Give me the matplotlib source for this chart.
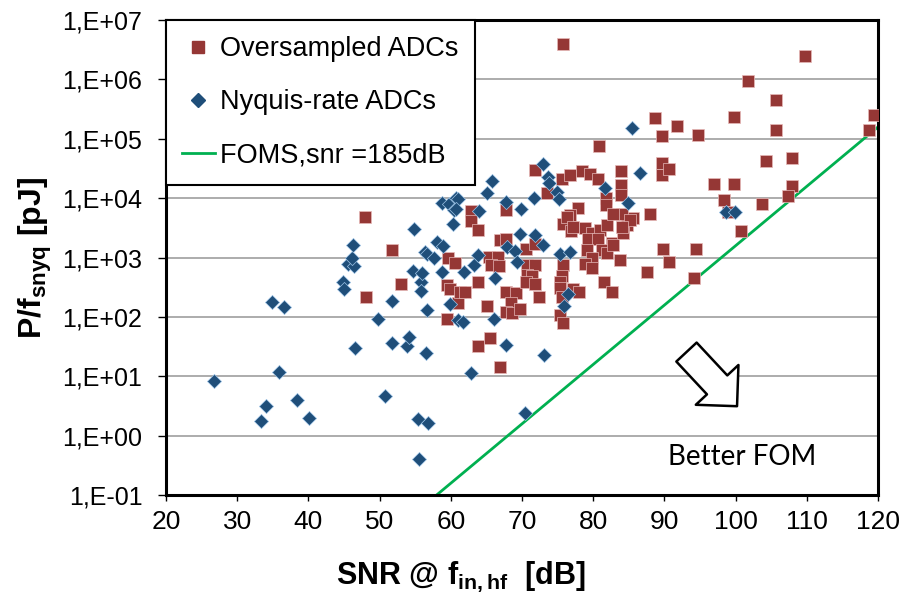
import matplotlib
matplotlib.use("Agg")
import matplotlib.pyplot as plt
import numpy as np
from matplotlib.patches import FancyArrowPatch
from matplotlib.lines import Line2D

plt.rcParams['font.family'] = ['Liberation Sans', 'DejaVu Sans']
plt.rcParams['mathtext.fontset'] = 'custom'
plt.rcParams['mathtext.rm'] = 'Liberation Sans'
plt.rcParams['mathtext.bf'] = 'Liberation Sans:bold'

# Oversampled ADCs: SNR [dB], P/fsnyq [pJ]
over_snr = [47.9, 48.1, 51.8, 53.0, 59.5, 59.5, 59.9, 59.6, 60.6, 61.0,
            61.3, 62.0, 62.8, 62.8, 63.8, 63.8, 63.8, 65.5, 66.9, 65.1,
            65.3, 66.7, 65.7, 66.8, 66.9, 67.8, 67.8, 67.8, 69.2, 68.4,
            67.8, 68.6, 69.7, 70.6, 71.8, 70.7, 71.8, 70.7, 71.4, 70.6,
            71.8, 72.4, 71.8, 73.5, 75.6, 76.7, 78.4, 79.6, 80.7, 81.8,
            81.8, 75.7, 77.8, 76.7, 75.7, 76.9, 78.8, 79.9, 81.0, 81.9,
            82.6, 79.3, 80.7, 81.2, 79.1, 79.8, 78.9, 81.9, 79.8, 75.8,
            75.6, 75.3, 75.4, 75.6, 77.1, 78.0, 81.5, 82.6, 75.3, 75.7,
            83.8, 87.6, 90.6, 89.8, 94.4, 94.1, 88.0, 85.6, 84.7, 84.2,
            82.8, 83.9, 89.6, 89.6, 90.7, 83.9, 83.9, 80.8, 88.7, 91.8,
            89.7, 94.7, 96.9, 99.8, 98.4, 99.0, 100.8, 103.7, 101.7, 105.7,
            99.8, 105.7, 109.7, 119.5, 118.8, 104.2, 107.9, 107.9, 107.3, 84.0,
            85.2, 84.1, 76.3, 77.2, 82.8]
over_p = [4900, 214, 1320, 355, 91, 350, 300, 980, 800, 170,
          263, 263, 6000, 4100, 2900, 380, 32, 44, 14.5, 151,
          1020, 1020, 740, 710, 1950, 2090, 6300, 263, 251, 170,
          123, 115, 138, 1410, 1660, 740, 740, 510, 490, 380,
          355, 219, 29500, 12000, 21400, 24500, 28800, 25700, 20900, 10000,
          7600, 3.9e6, 6800, 5200, 3600, 2750, 3100, 2600, 2950, 3550,
          1740, 2090, 2090, 1320, 1320, 980, 790, 1170, 660, 740,
          480, 380, 310, 219, 290, 263, 380, 263, 107, 78,
          910, 575, 850, 1380, 1410, 450, 5500, 4600, 3550, 2570,
          1620, 28800, 38900, 24500, 30900, 16600, 11200, 75900, 224000, 162000,
          110000, 117000, 17000, 17000, 9300, 5750, 2800, 7900, 933000, 457000,
          234000, 138000, 2.5e6, 251000, 138000, 42700, 47900, 15800, 11000, 5500,
          4300, 3300, 4900, 3300, 5500]

# Nyquist-rate ADCs: SNR [dB], P/fsnyq [pJ]
nyq_snr = [26.8, 33.3, 34.0, 34.9, 36.6, 35.9, 38.4, 40.1, 44.8, 45.0,
           45.5, 46.4, 46.1, 46.3, 46.6, 49.8, 50.7, 51.8, 51.8, 53.8,
           54.2, 54.7, 54.8, 55.4, 55.6, 55.8, 55.8, 56.0, 56.5, 56.4,
           56.7, 56.7, 56.8, 57.7, 58.1, 58.8, 58.8, 58.9, 59.7, 59.9,
           60.7, 60.4, 60.3, 61.0, 61.0, 60.7, 61.8, 61.7, 62.8, 63.3,
           63.8, 63.9, 65.1, 65.8, 66.2, 66.0, 67.8, 67.9, 67.8, 69.0,
           69.3, 69.7, 69.8, 70.4, 71.7, 71.8, 72.9, 73.0, 73.1, 73.7,
           73.8, 74.9, 75.2, 75.3, 76.7, 76.5, 75.9, 81.7, 84.9, 85.4,
           86.6, 98.7, 99.9]
nyq_p = [8.3, 1.8, 3.2, 176, 148, 12, 4.0, 2.0, 380, 300,
         790, 720, 980, 1620, 30, 91, 4.6, 182, 37, 32,
         45, 600, 3000, 1.9, 0.41, 380, 275, 550, 25, 1260,
         1150, 129, 1.66, 1000, 1860, 8300, 560, 1580, 8100, 166,
         10000, 6300, 3600, 9500, 89, 6500, 575, 83, 11.5, 740,
         1100, 6000, 12300, 19500, 450, 91, 8700, 1480, 34, 1290,
         830, 2500, 6500, 2.45, 10000, 2400, 37600, 1620, 23, 22400,
         17800, 12900, 9500, 1150, 1230, 240, 151, 15100, 8300, 151000,
         26300, 5900, 5750]

foms = 185.0
y_ticks = [1e-1, 1e0, 1e1, 1e2, 1e3, 1e4, 1e5, 1e6, 1e7]
y_ticklabels = ['1,E-01', '1,E+00', '1,E+01', '1,E+02', '1,E+03',
                '1,E+04', '1,E+05', '1,E+06', '1,E+07']
x_ticks = list(range(20, 121, 10))

red = '#953735'
blue = '#1F4E79'
green = '#00B050'

fig = plt.figure(figsize=(9.01, 5.95), dpi=100)
ax = fig.add_axes([0.1842, 0.168, 0.7903, 0.7984])

# FOM line: P/fs = 1/(2*10^((FOM-SNR)/10)) J -> pJ
snr_line = np.linspace(20, 120, 200)
p_line = 0.5 * 10 ** ((snr_line - foms) / 10) * 1e12
ax.plot(snr_line, p_line, color=green, lw=2.0, zorder=2)

ax.scatter(over_snr, over_p, marker='s', s=78, color=red,
           edgecolors='#E6B9B8', linewidths=0.5, zorder=3)
ax.scatter(nyq_snr, nyq_p, marker='D', s=52, color=blue,
           edgecolors='#9DC3E6', linewidths=0.5, zorder=4)

ax.set_yscale('log')
ax.set_xlim(20, 120)
ax.set_ylim(1e-1, 1e7)
ax.set_yticks(y_ticks)
ax.set_yticklabels(y_ticklabels, fontsize=18)
ax.minorticks_off()
ax.set_xticks(x_ticks)
ax.set_xticklabels([str(v) for v in x_ticks], fontsize=19,
                   family=['Liberation Sans Narrow', 'Liberation Sans'])
ax.tick_params(axis='y', direction='out', length=6, width=1, pad=11)
ax.tick_params(axis='x', direction='out', length=4, width=1, pad=7)
ax.yaxis.grid(True, color='#A6A6A6', lw=1.3)
ax.set_axisbelow(True)
for s in ax.spines.values():
    s.set_linewidth(2.2)
    s.set_color('black')

# hollow "better FOM" arrow
arr = FancyArrowPatch((0.731, 0.301), (0.802, 0.187), transform=ax.transAxes,
                      arrowstyle='simple,head_length=21,head_width=42,tail_width=20',
                      mutation_scale=1, fc='white', ec='black', lw=1.8,
                      shrinkA=0, shrinkB=0, zorder=5)
ax.add_patch(arr)
ax.text(0.809, 0.080, 'Better FOM', transform=ax.transAxes, ha='center',
        va='center', fontsize=20, family=['Lato', 'DejaVu Sans'])

handles = [Line2D([], [], ls='none', marker='s', ms=8, color=red),
           Line2D([], [], ls='none', marker='D', ms=7, color=blue),
           Line2D([], [], color=green, lw=2)]
labels = ['Oversampled ADCs', 'Nyquis-rate ADCs', 'FOMS,snr =185dB']
leg = ax.legend(handles, labels, loc='upper left', bbox_to_anchor=(0, 1),
                borderaxespad=0, fontsize=19.5, frameon=True, fancybox=False,
                edgecolor='black', framealpha=1, labelspacing=1.0,
                borderpad=0.6, handlelength=1.2, handletextpad=0.2)
leg.get_frame().set_linewidth(1.5)
leg.set_zorder(6)

fig.text(0.039, 0.567, r'P/f$_{\mathbf{snyq}}$ [pJ]', rotation=90, ha='center',
         va='center', fontsize=23, fontweight='bold')
fig.text(0.511, 0.030, r'SNR @ f$_{\mathbf{in,hf}}$  [dB]', ha='center',
         va='center', fontsize=22, fontweight='bold')

fig.savefig('out.png', dpi=100)
